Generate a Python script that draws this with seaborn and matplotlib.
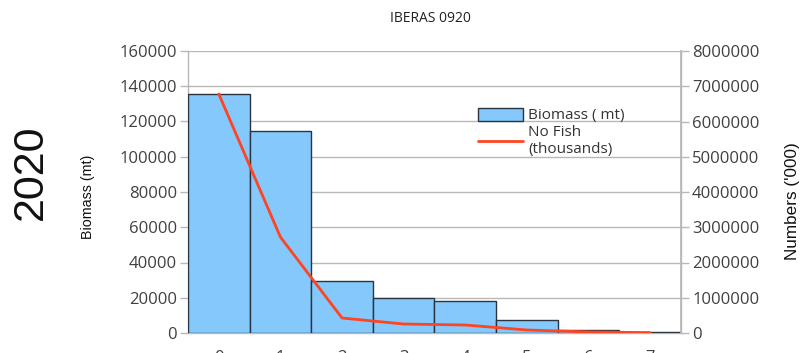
import matplotlib
matplotlib.use("Agg")
import matplotlib.pyplot as plt
import seaborn as sns
import pandas as pd
from matplotlib.lines import Line2D
from matplotlib.patches import Patch
from matplotlib.ticker import FuncFormatter

# Age classes and survey estimates
ages = ["0", "1", "2", "3", "4", "5", "6", "7"]
biomass_mt = [135600, 114800, 29400, 19800, 18100, 7400, 1700, 600]
numbers_thousands = [6780000, 2720000, 425000, 255000, 227000, 85000, 30000, 10000]

df = pd.DataFrame({"age": ages, "biomass": biomass_mt, "numbers": numbers_thousands})

sns.set_theme(style="white")
plt.rcParams["font.family"] = ["Open Sans", "DejaVu Sans"]

fig = plt.figure(figsize=(8.04, 3.53), dpi=100)
ax = fig.add_axes([188 / 804, 1 - 333 / 353, (681 - 188) / 804, (333 - 51) / 353])

bar_color = "#85C8FC"
edge_color = "#2A3440"
line_color = "#FF4422"
grid_color = "#B8B8B8"
tick_color = "#404040"
plain = FuncFormatter(lambda v, _: f"{int(round(v))}")

sns.barplot(data=df, x="age", y="biomass", color=bar_color, edgecolor=edge_color,
            linewidth=1.0, width=1.0, saturation=1, ax=ax, zorder=3)

ax.set_xlim(-0.5, 7.5)
ax.set_ylim(0, 160000)
ax.set_yticks(range(0, 160001, 20000))
ax.yaxis.set_major_formatter(plain)
ax.yaxis.grid(True, color=grid_color, linewidth=1.0, zorder=0)
ax.set_axisbelow(True)

# ticks at class boundaries, labels at class centres
ax.set_xticks([i - 0.5 for i in range(len(ages) + 1)])
ax.set_xticklabels([])
ax.set_xticks(range(len(ages)), minor=True)
ax.set_xticklabels(ages, minor=True)
ax.tick_params(axis="x", which="major", length=6.5, width=1, color=grid_color, direction="out")
ax.tick_params(axis="x", which="minor", length=0, pad=12.5, labelsize=12, labelcolor=tick_color)
ax.tick_params(axis="y", length=6, width=1, color=grid_color, direction="out",
               labelsize=12, labelcolor=tick_color, pad=2, left=True)
ax.set_xlabel("")
ax.set_ylabel("Biomass (mt)", family="Liberation Sans", fontsize=10.3, color="#111111")
ax.yaxis.set_label_coords(-0.189, 0.482)

ax.spines["top"].set_visible(False)
for s in ["left", "right", "bottom"]:
    ax.spines[s].set_color(grid_color)
    ax.spines[s].set_linewidth(1.0)

ax2 = ax.twinx()
sns.lineplot(x=list(range(len(ages))), y=numbers_thousands, color=line_color,
             linewidth=2.0, ax=ax2, zorder=4)
ax2.set_ylim(0, 8000000)
ax2.set_yticks(range(0, 8000001, 1000000))
ax2.yaxis.set_major_formatter(plain)
ax2.tick_params(axis="y", length=6, width=1, color=grid_color, direction="out",
                labelsize=12, labelcolor=tick_color, pad=2, right=True)
ax2.set_ylabel("Numbers ('000)", family="Liberation Sans", fontsize=12.3, color="#111111")
ax2.yaxis.set_label_coords(1.211, 0.468)
for s in ["top", "left", "bottom"]:
    ax2.spines[s].set_visible(False)
ax2.spines["right"].set_color(grid_color)
ax2.grid(False)

handles = [Patch(facecolor=bar_color, edgecolor=edge_color, linewidth=1.0),
           Line2D([0], [0], color=line_color, linewidth=2.0)]
ax2.legend(handles, ["Biomass ( mt)", "No Fish\n(thousands)"], loc="upper left",
           bbox_to_anchor=(0.575, 0.82), frameon=False, fontsize=11, labelspacing=0.1,
           handlelength=3.0, handleheight=0.9, handletextpad=0.3, borderaxespad=0,
           labelcolor="#333333")

fig.text(430 / 804, 1 - 18 / 353, "IBERAS 0920", ha="center", va="center",
         fontsize=10, color="#222222")
fig.text(31 / 804, 1 - 172 / 353, "2020", rotation=90, ha="center", va="center",
         family="Liberation Sans", fontsize=31, color="#111111")

fig.savefig("out.png", dpi=100)
